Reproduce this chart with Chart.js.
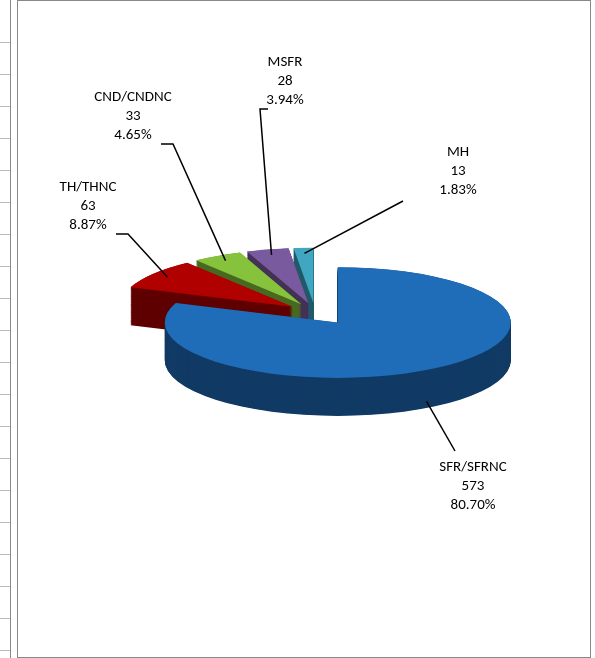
<!DOCTYPE html>
<html><head><meta charset="utf-8">
<script src="https://cdn.jsdelivr.net/npm/chart.js@4"></script>
<style>
body{margin:0;background:#fff;font-family:Calibri,"Liberation Sans",Arial,sans-serif;}
#left{position:absolute;left:0;top:0;width:10px;height:658px;border-right:1px solid #888;
background:repeating-linear-gradient(to bottom,transparent 0,transparent 31px,#bbb 31px,#bbb 32px);background-position:0 11px;}
#wrap{position:absolute;left:17px;top:0;width:572px;height:656px;border:1px solid #888;}
</style></head><body>
<div id="left"></div>
<div id="wrap"><canvas id="c" width="572" height="656"></canvas></div>
<script>
const categories = ["SFR/SFRNC", "TH/THNC", "CND/CNDNC", "MSFR", "MH"];
const counts = [573, 63, 33, 28, 13];
const percents = ["80.70%", "8.87%", "4.65%", "3.94%", "1.83%"];
const colors = ["#1f6cb8", "#b00000", "#86c23c", "#7a5a9e", "#3fa7c2"];
// label anchor (text centre) and where its leader bends
const labelPos = [[455, 485], [70, 205], [115, 115], [267, 80], [440, 170]];

const SQ = 0.32, DEPTH = 38;
function darken(hex, f) {
  const n = parseInt(hex.slice(1), 16);
  return `rgb(${((n >> 16) & 255) * f | 0},${((n >> 8) & 255) * f | 0},${(n & 255) * f | 0})`;
}
function drawArc(ctx, a, col) {
  const p = a.getProps(["x", "y", "startAngle", "endAngle", "outerRadius", "innerRadius"]);
  const mid = (p.startAngle + p.endAngle) / 2, off = a.options.offset || 0;
  const x = p.x + Math.cos(mid) * off, y = p.y + Math.sin(mid) * off;
  ctx.beginPath(); ctx.moveTo(x, y);
  ctx.arc(x, y, p.outerRadius, p.startAngle, p.endAngle);
  ctx.closePath(); ctx.fillStyle = col; ctx.fill();
}
const pie3d = {
  id: "pie3d",
  beforeDatasetsDraw(chart) {
    const ctx = chart.ctx, arcs = chart.getDatasetMeta(0).data;
    const cx = arcs[0].x, cy = arcs[0].y;
    ctx.save();
    ctx.translate(cx, cy); ctx.scale(1, SQ); ctx.translate(-cx, -cy);
    for (let d = DEPTH / SQ; d > 0; d -= 2) {
      ctx.save(); ctx.translate(0, d);
      arcs.forEach((a, i) => drawArc(ctx, a, darken(colors[i], 0.55)));
      ctx.restore();
    }
    arcs.forEach((a, i) => drawArc(ctx, a, colors[i]));
    ctx.restore();
    return false;
  },
  afterDraw(chart) {
    const ctx = chart.ctx, arcs = chart.getDatasetMeta(0).data;
    ctx.save();
    ctx.font = "15px Calibri, 'Liberation Sans', Arial";
    ctx.textAlign = "center"; ctx.fillStyle = "#000";
    arcs.forEach((a, i) => {
      const p = a.getProps(["x", "y", "startAngle", "endAngle", "outerRadius"]);
      const mid = (p.startAngle + p.endAngle) / 2, off = a.options.offset || 0;
      const r = p.outerRadius * 0.9 + off;
      const ex = p.x + Math.cos(mid) * r, ey = p.y + Math.sin(mid) * r * SQ + (i === 0 ? DEPTH : 0);
      const [lx, ly] = labelPos[i];
      const lines = [categories[i], String(counts[i]), percents[i]];
      ctx.strokeStyle = "#000"; ctx.lineWidth = 1.5;
      ctx.beginPath(); ctx.moveTo(ex, ey);
      if (i === 0) { ctx.lineTo(lx - 18, ly - 35); }
      else {
        const bx = i === 4 ? lx - 55 : lx + (i === 3 ? -25 : 40);
        const by = i === 4 ? ly + 30 : ly + 28;
        ctx.lineTo(bx, by); ctx.lineTo(bx + (i === 4 ? 0 : (i === 3 ? 8 : -12)), by);
      }
      ctx.stroke();
      lines.forEach((t, k) => ctx.fillText(t, lx, ly - 15 + k * 19));
    });
    ctx.restore();
  }
};
new Chart(document.getElementById("c"), {
  type: "pie",
  data: { labels: categories, datasets: [{ data: counts, backgroundColor: colors, borderWidth: 0,
    offset: [40, 28, 28, 28, 28] }] },
  options: {
    responsive: false, animation: false, rotation: 0,
    layout: { padding: { top: 118, bottom: 152, left: 102, right: 80 } },
    plugins: { legend: { display: false }, tooltip: { enabled: false } }
  },
  plugins: [pie3d]
});
</script></body></html>
